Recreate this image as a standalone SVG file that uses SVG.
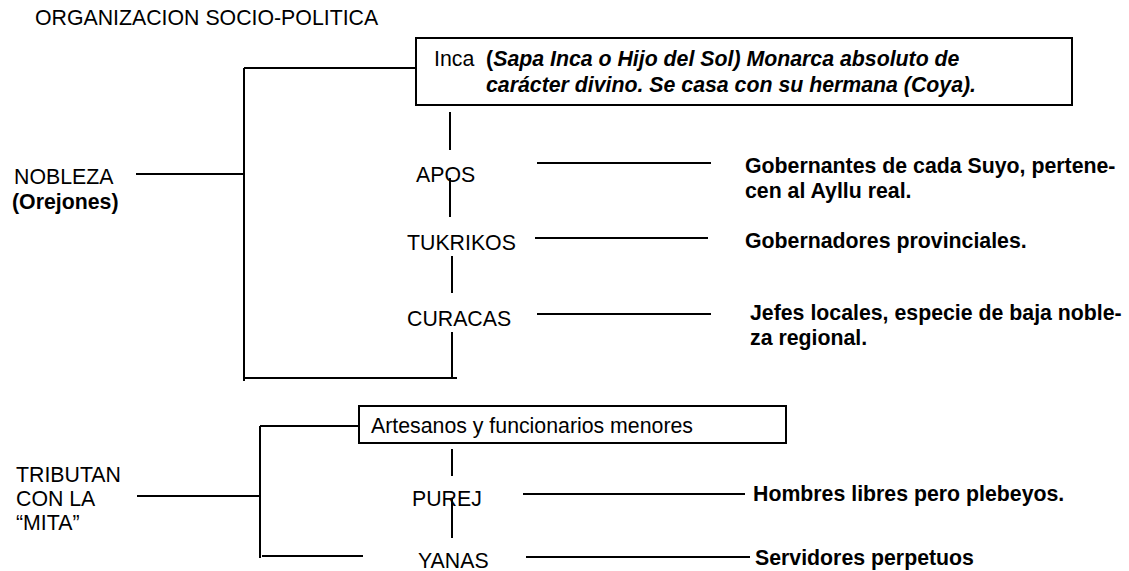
<svg xmlns="http://www.w3.org/2000/svg" width="1129" height="571" viewBox="0 0 1129 571">
<style>
text{font-family:"Liberation Sans",Arial,sans-serif;font-size:21.3px;fill:#000}
.b{font-weight:bold}
.bi{font-weight:bold;font-style:italic}
.ln{stroke:#000;stroke-width:2;fill:none}
.box{stroke:#000;stroke-width:2;fill:#fff}
</style>
<rect width="1129" height="571" fill="#fff"/>
<text x="35" y="25">ORGANIZACION SOCIO-POLITICA</text>
<g id="connectors">
<path class="ln" d="M244 68H416M244 68V381M244 378H457M136 174H244M450 112V150M450 178V217M452 256V293M452 332V378M537 163H711M535 238H708M537 314H711"/>
<path class="ln" d="M260 426H359M260 426V558M262 556H363M137 496H260M452 449V476M452 499V538M523 494H745M526 557H750"/>
</g>
<g id="inca"><rect class="box" x="416" y="38" width="656" height="67"/>
<text x="434" y="66" xml:space="preserve">Inca  <tspan class="b">(</tspan><tspan class="bi">Sapa Inca o Hijo del Sol) Monarca absoluto de</tspan></text>
<text class="bi" x="486" y="92">carácter divino. Se casa con su hermana (Coya).</text></g>
<g id="nobleza"><text x="14" y="184">NOBLEZA</text><text class="b" x="12" y="209">(Orejones)</text></g>
<g id="apos"><text x="416" y="182">APOS</text></g>
<g id="apos-desc"><text class="b" x="745" y="173">Gobernantes de cada Suyo, pertene-</text><text class="b" x="745" y="198">cen al Ayllu real.</text></g>
<g id="tukrikos"><text x="407" y="250">TUKRIKOS</text></g>
<g id="tukrikos-desc"><text class="b" x="745" y="248">Gobernadores provinciales.</text></g>
<g id="curacas"><text x="407" y="326">CURACAS</text></g>
<g id="curacas-desc"><text class="b" x="750" y="320">Jefes locales, especie de baja noble-</text><text class="b" x="750" y="345">za regional.</text></g>
<g id="artesanos"><rect class="box" x="359" y="406" width="427" height="37"/><text x="371" y="433">Artesanos y funcionarios menores</text></g>
<g id="tributan"><text x="16" y="482">TRIBUTAN</text><text x="16" y="506">CON LA</text><text x="16" y="530">“MITA”</text></g>
<g id="purej"><text x="412" y="506">PUREJ</text></g>
<g id="purej-desc"><text class="b" x="753" y="501">Hombres libres pero plebeyos.</text></g>
<g id="yanas"><text x="418" y="568">YANAS</text></g>
<g id="yanas-desc"><text class="b" x="755" y="565">Servidores perpetuos</text></g>
</svg>
